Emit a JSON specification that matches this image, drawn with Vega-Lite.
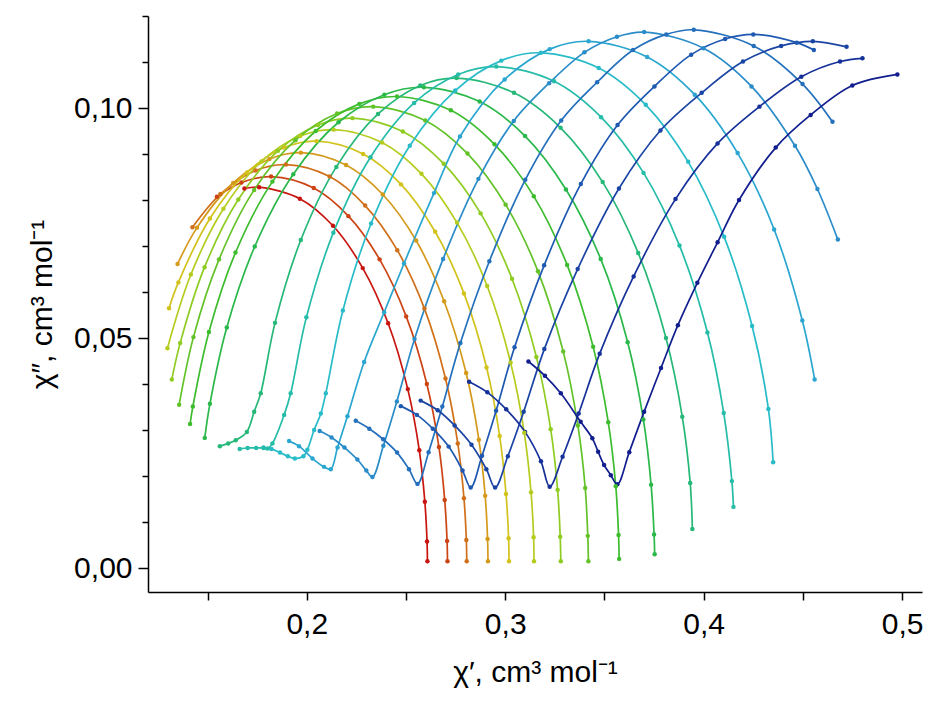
{
"$schema":"https://vega.github.io/schema/vega-lite/v6.json",
"width":774,"height":576,
"autosize":{"type":"none"},
"padding":{"left":148,"top":16,"right":7,"bottom":115},
"background":"white",
"config":{"view":{"stroke":null},"axis":{"grid":false,"domainColor":"black","domainWidth":1.5,"tickColor":"black","tickWidth":1.5,"labelColor":"black","titleColor":"black","labelFont":"Liberation Sans","titleFont":"Liberation Sans","titleFontWeight":"normal","labelOverlap":false,"labelFlush":false}},
"datasets":{"pts":[
{"c":1,"i":0,"x":0.1686,"y":0.0825},{"c":1,"i":1,"x":0.176,"y":0.0828},{"c":1,"i":2,"x":0.1965,"y":0.0803},{"c":1,"i":3,"x":0.2132,"y":0.0744},{"c":1,"i":4,"x":0.2282,"y":0.0652},{"c":1,"i":5,"x":0.241,"y":0.0532},{"c":1,"i":6,"x":0.2509,"y":0.0389},{"c":1,"i":7,"x":0.2567,"y":0.0256},{"c":1,"i":8,"x":0.2595,"y":0.0144},{"c":1,"i":9,"x":0.2606,"y":0.0058},{"c":1,"i":10,"x":0.2608,"y":0.0015},
{"c":2,"i":0,"x":0.1547,"y":0.0807},{"c":2,"i":1,"x":0.1671,"y":0.0838},{"c":2,"i":2,"x":0.182,"y":0.0851},{"c":2,"i":3,"x":0.2035,"y":0.0826},{"c":2,"i":4,"x":0.221,"y":0.0765},{"c":2,"i":5,"x":0.2367,"y":0.0671},{"c":2,"i":6,"x":0.2501,"y":0.0547},{"c":2,"i":7,"x":0.2605,"y":0.04},{"c":2,"i":8,"x":0.2666,"y":0.0263},{"c":2,"i":9,"x":0.2695,"y":0.0148},{"c":2,"i":10,"x":0.2707,"y":0.0059},{"c":2,"i":11,"x":0.2709,"y":0.0015},
{"c":3,"i":0,"x":0.1424,"y":0.0741},{"c":3,"i":1,"x":0.1565,"y":0.0813},{"c":3,"i":2,"x":0.1742,"y":0.0864},{"c":3,"i":3,"x":0.1895,"y":0.0877},{"c":3,"i":4,"x":0.2115,"y":0.0851},{"c":3,"i":5,"x":0.2294,"y":0.0788},{"c":3,"i":6,"x":0.2456,"y":0.0691},{"c":3,"i":7,"x":0.2593,"y":0.0564},{"c":3,"i":8,"x":0.2699,"y":0.0412},{"c":3,"i":9,"x":0.2761,"y":0.0271},{"c":3,"i":10,"x":0.2792,"y":0.0152},{"c":3,"i":11,"x":0.2804,"y":0.0061},{"c":3,"i":12,"x":0.2806,"y":0.0015},
{"c":4,"i":0,"x":0.1349,"y":0.0661},{"c":4,"i":1,"x":0.1447,"y":0.074},{"c":4,"i":2,"x":0.1629,"y":0.0837},{"c":4,"i":3,"x":0.1812,"y":0.0889},{"c":4,"i":4,"x":0.197,"y":0.0903},{"c":4,"i":5,"x":0.2198,"y":0.0876},{"c":4,"i":6,"x":0.2383,"y":0.0812},{"c":4,"i":7,"x":0.2551,"y":0.0712},{"c":4,"i":8,"x":0.2692,"y":0.058},{"c":4,"i":9,"x":0.2803,"y":0.0424},{"c":4,"i":10,"x":0.2867,"y":0.0279},{"c":4,"i":11,"x":0.2899,"y":0.0157},{"c":4,"i":12,"x":0.2911,"y":0.0063},{"c":4,"i":13,"x":0.2913,"y":0.0015},
{"c":5,"i":0,"x":0.1306,"y":0.0565},{"c":5,"i":1,"x":0.1353,"y":0.0621},{"c":5,"i":2,"x":0.1512,"y":0.076},{"c":5,"i":3,"x":0.1699,"y":0.086},{"c":5,"i":4,"x":0.1887,"y":0.0914},{"c":5,"i":5,"x":0.205,"y":0.0928},{"c":5,"i":6,"x":0.2284,"y":0.09},{"c":5,"i":7,"x":0.2475,"y":0.0834},{"c":5,"i":8,"x":0.2647,"y":0.0731},{"c":5,"i":9,"x":0.2792,"y":0.0597},{"c":5,"i":10,"x":0.2906,"y":0.0436},{"c":5,"i":11,"x":0.2972,"y":0.0287},{"c":5,"i":12,"x":0.3004,"y":0.0161},{"c":5,"i":13,"x":0.3017,"y":0.0065},{"c":5,"i":14,"x":0.3019,"y":0.0015},
{"c":6,"i":0,"x":0.1298,"y":0.0478},{"c":6,"i":1,"x":0.1416,"y":0.0638},{"c":6,"i":2,"x":0.158,"y":0.0781},{"c":6,"i":3,"x":0.1772,"y":0.0884},{"c":6,"i":4,"x":0.1967,"y":0.0939},{"c":6,"i":5,"x":0.2135,"y":0.0953},{"c":6,"i":6,"x":0.2379,"y":0.0925},{"c":6,"i":7,"x":0.2578,"y":0.0857},{"c":6,"i":8,"x":0.2757,"y":0.0751},{"c":6,"i":9,"x":0.2909,"y":0.0613},{"c":6,"i":10,"x":0.3027,"y":0.0447},{"c":6,"i":11,"x":0.3096,"y":0.0294},{"c":6,"i":12,"x":0.313,"y":0.0165},{"c":6,"i":13,"x":0.3143,"y":0.0067},{"c":6,"i":14,"x":0.3145,"y":0.0015},
{"c":7,"i":0,"x":0.132,"y":0.041},{"c":7,"i":1,"x":0.1362,"y":0.0489},{"c":7,"i":2,"x":0.1485,"y":0.0654},{"c":7,"i":3,"x":0.1655,"y":0.0801},{"c":7,"i":4,"x":0.1855,"y":0.0907},{"c":7,"i":5,"x":0.2056,"y":0.0963},{"c":7,"i":6,"x":0.223,"y":0.0978},{"c":7,"i":7,"x":0.2484,"y":0.0949},{"c":7,"i":8,"x":0.269,"y":0.0879},{"c":7,"i":9,"x":0.2876,"y":0.0771},{"c":7,"i":10,"x":0.3034,"y":0.0629},{"c":7,"i":11,"x":0.3157,"y":0.0459},{"c":7,"i":12,"x":0.3229,"y":0.0302},{"c":7,"i":13,"x":0.3264,"y":0.017},{"c":7,"i":14,"x":0.3277,"y":0.0068},{"c":7,"i":15,"x":0.328,"y":0.0015},
{"c":8,"i":0,"x":0.1357,"y":0.0355},{"c":8,"i":1,"x":0.1429,"y":0.0502},{"c":8,"i":2,"x":0.1558,"y":0.0671},{"c":8,"i":3,"x":0.1735,"y":0.0822},{"c":8,"i":4,"x":0.1943,"y":0.093},{"c":8,"i":5,"x":0.2153,"y":0.0988},{"c":8,"i":6,"x":0.2335,"y":0.1003},{"c":8,"i":7,"x":0.2597,"y":0.0973},{"c":8,"i":8,"x":0.281,"y":0.0901},{"c":8,"i":9,"x":0.3002,"y":0.079},{"c":8,"i":10,"x":0.3165,"y":0.0645},{"c":8,"i":11,"x":0.3292,"y":0.0471},{"c":8,"i":12,"x":0.3366,"y":0.031},{"c":8,"i":13,"x":0.3403,"y":0.0174},{"c":8,"i":14,"x":0.3416,"y":0.007},{"c":8,"i":15,"x":0.3419,"y":0.0015},
{"c":9,"i":0,"x":0.1412,"y":0.0313},{"c":9,"i":1,"x":0.1426,"y":0.0351},{"c":9,"i":2,"x":0.1507,"y":0.0513},{"c":9,"i":3,"x":0.1641,"y":0.0686},{"c":9,"i":4,"x":0.1827,"y":0.084},{"c":9,"i":5,"x":0.2045,"y":0.095},{"c":9,"i":6,"x":0.2265,"y":0.1009},{"c":9,"i":7,"x":0.2455,"y":0.1025},{"c":9,"i":8,"x":0.2726,"y":0.0995},{"c":9,"i":9,"x":0.2946,"y":0.0921},{"c":9,"i":10,"x":0.3144,"y":0.0808},{"c":9,"i":11,"x":0.3312,"y":0.0659},{"c":9,"i":12,"x":0.3443,"y":0.0481},{"c":9,"i":13,"x":0.3519,"y":0.0317},{"c":9,"i":14,"x":0.3557,"y":0.0178},{"c":9,"i":15,"x":0.3571,"y":0.0072},{"c":9,"i":16,"x":0.3574,"y":0.002},
{"c":10,"i":0,"x":0.1486,"y":0.0283},{"c":10,"i":1,"x":0.1512,"y":0.0357},{"c":10,"i":2,"x":0.1597,"y":0.0523},{"c":10,"i":3,"x":0.1738,"y":0.0699},{"c":10,"i":4,"x":0.1932,"y":0.0856},{"c":10,"i":5,"x":0.216,"y":0.0969},{"c":10,"i":6,"x":0.2391,"y":0.1029},{"c":10,"i":7,"x":0.259,"y":0.1045},{"c":10,"i":8,"x":0.2871,"y":0.1014},{"c":10,"i":9,"x":0.31,"y":0.0939},{"c":10,"i":10,"x":0.3306,"y":0.0823},{"c":10,"i":11,"x":0.3481,"y":0.0672},{"c":10,"i":12,"x":0.3617,"y":0.0491},{"c":10,"i":13,"x":0.3696,"y":0.0323},{"c":10,"i":14,"x":0.3735,"y":0.0181},{"c":10,"i":15,"x":0.375,"y":0.0073},{"c":10,"i":16,"x":0.3753,"y":0.003},
{"c":11,"i":0,"x":0.1562,"y":0.0265},{"c":11,"i":1,"x":0.1604,"y":0.0271},{"c":11,"i":2,"x":0.1642,"y":0.0278},{"c":11,"i":3,"x":0.1698,"y":0.0296},{"c":11,"i":4,"x":0.1735,"y":0.034},{"c":11,"i":5,"x":0.1768,"y":0.038},{"c":11,"i":6,"x":0.184,"y":0.0533},{"c":11,"i":7,"x":0.197,"y":0.0713},{"c":11,"i":8,"x":0.2149,"y":0.0872},{"c":11,"i":9,"x":0.2359,"y":0.0987},{"c":11,"i":10,"x":0.2572,"y":0.1049},{"c":11,"i":11,"x":0.2755,"y":0.1065},{"c":11,"i":12,"x":0.3044,"y":0.1033},{"c":11,"i":13,"x":0.3279,"y":0.0957},{"c":11,"i":14,"x":0.3491,"y":0.0839},{"c":11,"i":15,"x":0.367,"y":0.0685},{"c":11,"i":16,"x":0.381,"y":0.05},{"c":11,"i":17,"x":0.3892,"y":0.0329},{"c":11,"i":18,"x":0.3932,"y":0.0185},{"c":11,"i":19,"x":0.3943,"y":0.0085},
{"c":12,"i":0,"x":0.1662,"y":0.0259},{"c":12,"i":1,"x":0.1702,"y":0.0261},{"c":12,"i":2,"x":0.1745,"y":0.0261},{"c":12,"i":3,"x":0.1782,"y":0.0261},{"c":12,"i":4,"x":0.1802,"y":0.026},{"c":12,"i":5,"x":0.1827,"y":0.0271},{"c":12,"i":6,"x":0.1886,"y":0.0333},{"c":12,"i":7,"x":0.1919,"y":0.038},{"c":12,"i":8,"x":0.1998,"y":0.0545},{"c":12,"i":9,"x":0.2134,"y":0.0729},{"c":12,"i":10,"x":0.2321,"y":0.0893},{"c":12,"i":11,"x":0.2541,"y":0.1011},{"c":12,"i":12,"x":0.2763,"y":0.1073},{"c":12,"i":13,"x":0.2955,"y":0.109},{"c":12,"i":14,"x":0.3246,"y":0.1058},{"c":12,"i":15,"x":0.3483,"y":0.098},{"c":12,"i":16,"x":0.3697,"y":0.0859},{"c":12,"i":17,"x":0.3878,"y":0.0701},{"c":12,"i":18,"x":0.4019,"y":0.0512},{"c":12,"i":19,"x":0.4101,"y":0.0337},{"c":12,"i":20,"x":0.4142,"y":0.0189},{"c":12,"i":21,"x":0.415,"y":0.0133},
{"c":13,"i":0,"x":0.1782,"y":0.0262},{"c":13,"i":1,"x":0.1822,"y":0.0259},{"c":13,"i":2,"x":0.1865,"y":0.0251},{"c":13,"i":3,"x":0.1905,"y":0.0243},{"c":13,"i":4,"x":0.194,"y":0.0238},{"c":13,"i":5,"x":0.1983,"y":0.0243},{"c":13,"i":6,"x":0.2003,"y":0.0257},{"c":13,"i":7,"x":0.2037,"y":0.03},{"c":13,"i":8,"x":0.2071,"y":0.0336},{"c":13,"i":9,"x":0.2096,"y":0.038},{"c":13,"i":10,"x":0.2182,"y":0.056},{"c":13,"i":11,"x":0.2324,"y":0.0749},{"c":13,"i":12,"x":0.2519,"y":0.0918},{"c":13,"i":13,"x":0.2748,"y":0.1038},{"c":13,"i":14,"x":0.298,"y":0.1103},{"c":13,"i":15,"x":0.318,"y":0.112},{"c":13,"i":16,"x":0.3471,"y":0.1087},{"c":13,"i":17,"x":0.3708,"y":0.1007},{"c":13,"i":18,"x":0.3922,"y":0.0883},{"c":13,"i":19,"x":0.4103,"y":0.072},{"c":13,"i":20,"x":0.4244,"y":0.0526},{"c":13,"i":21,"x":0.4326,"y":0.0346},{"c":13,"i":22,"x":0.435,"y":0.023},
{"c":14,"i":0,"x":0.1911,"y":0.0276},{"c":14,"i":1,"x":0.1961,"y":0.0265},{"c":14,"i":2,"x":0.2029,"y":0.0238},{"c":14,"i":3,"x":0.2087,"y":0.022},{"c":14,"i":4,"x":0.2121,"y":0.0215},{"c":14,"i":5,"x":0.2155,"y":0.0262},{"c":14,"i":6,"x":0.2205,"y":0.033},{"c":14,"i":7,"x":0.2289,"y":0.0448},{"c":14,"i":8,"x":0.239,"y":0.0556},{"c":14,"i":9,"x":0.249,"y":0.0662},{"c":14,"i":10,"x":0.2641,"y":0.0815},{"c":14,"i":11,"x":0.2772,"y":0.0938},{"c":14,"i":12,"x":0.2997,"y":0.1062},{"c":14,"i":13,"x":0.3224,"y":0.1128},{"c":14,"i":14,"x":0.342,"y":0.1145},{"c":14,"i":15,"x":0.3715,"y":0.1111},{"c":14,"i":16,"x":0.3955,"y":0.1029},{"c":14,"i":17,"x":0.4171,"y":0.0902},{"c":14,"i":18,"x":0.4355,"y":0.0736},{"c":14,"i":19,"x":0.4497,"y":0.0538},{"c":14,"i":20,"x":0.4559,"y":0.041},
{"c":15,"i":0,"x":0.2065,"y":0.0298},{"c":15,"i":1,"x":0.2125,"y":0.0284},{"c":15,"i":2,"x":0.219,"y":0.0262},{"c":15,"i":3,"x":0.2255,"y":0.0236},{"c":15,"i":4,"x":0.23,"y":0.0212},{"c":15,"i":5,"x":0.2331,"y":0.0198},{"c":15,"i":6,"x":0.2386,"y":0.0266},{"c":15,"i":7,"x":0.2454,"y":0.0362},{"c":15,"i":8,"x":0.2543,"y":0.0498},{"c":15,"i":9,"x":0.2687,"y":0.0672},{"c":15,"i":10,"x":0.2865,"y":0.0846},{"c":15,"i":11,"x":0.3043,"y":0.0972},{"c":15,"i":12,"x":0.3221,"y":0.1054},{"c":15,"i":13,"x":0.3399,"y":0.1121},{"c":15,"i":14,"x":0.3563,"y":0.1155},{"c":15,"i":15,"x":0.37,"y":0.1165},{"c":15,"i":16,"x":0.3999,"y":0.113},{"c":15,"i":17,"x":0.4241,"y":0.1047},{"c":15,"i":18,"x":0.446,"y":0.0918},{"c":15,"i":19,"x":0.4573,"y":0.0824},{"c":15,"i":20,"x":0.4676,"y":0.0714},
{"c":16,"i":0,"x":0.2247,"y":0.032},{"c":16,"i":1,"x":0.2315,"y":0.0303},{"c":16,"i":2,"x":0.2385,"y":0.028},{"c":16,"i":3,"x":0.2455,"y":0.0251},{"c":16,"i":4,"x":0.2515,"y":0.0215},{"c":16,"i":5,"x":0.2558,"y":0.0183},{"c":16,"i":6,"x":0.2614,"y":0.0252},{"c":16,"i":7,"x":0.2683,"y":0.0351},{"c":16,"i":8,"x":0.2774,"y":0.0489},{"c":16,"i":9,"x":0.292,"y":0.0667},{"c":16,"i":10,"x":0.3101,"y":0.0844},{"c":16,"i":11,"x":0.3282,"y":0.0973},{"c":16,"i":12,"x":0.3463,"y":0.1056},{"c":16,"i":13,"x":0.3644,"y":0.1126},{"c":16,"i":14,"x":0.3811,"y":0.116},{"c":16,"i":15,"x":0.395,"y":0.117},{"c":16,"i":16,"x":0.4252,"y":0.1135},{"c":16,"i":17,"x":0.4498,"y":0.1052},{"c":16,"i":18,"x":0.4649,"y":0.097},
{"c":17,"i":0,"x":0.2474,"y":0.0352},{"c":17,"i":1,"x":0.2555,"y":0.0333},{"c":17,"i":2,"x":0.2635,"y":0.0303},{"c":17,"i":3,"x":0.2715,"y":0.0264},{"c":17,"i":4,"x":0.2785,"y":0.0212},{"c":17,"i":5,"x":0.2826,"y":0.0175},{"c":17,"i":6,"x":0.2883,"y":0.0244},{"c":17,"i":7,"x":0.2954,"y":0.0342},{"c":17,"i":8,"x":0.3047,"y":0.048},{"c":17,"i":9,"x":0.3196,"y":0.0658},{"c":17,"i":10,"x":0.3381,"y":0.0835},{"c":17,"i":11,"x":0.3566,"y":0.0963},{"c":17,"i":12,"x":0.3752,"y":0.1047},{"c":17,"i":13,"x":0.3937,"y":0.1116},{"c":17,"i":14,"x":0.4108,"y":0.115},{"c":17,"i":15,"x":0.425,"y":0.116},{"c":17,"i":16,"x":0.4469,"y":0.1142},{"c":17,"i":17,"x":0.4555,"y":0.1126},
{"c":18,"i":0,"x":0.2574,"y":0.0364},{"c":18,"i":1,"x":0.266,"y":0.0343},{"c":18,"i":2,"x":0.2745,"y":0.031},{"c":18,"i":3,"x":0.283,"y":0.0268},{"c":18,"i":4,"x":0.2905,"y":0.0215},{"c":18,"i":5,"x":0.2949,"y":0.0175},{"c":18,"i":6,"x":0.3013,"y":0.0243},{"c":18,"i":7,"x":0.3093,"y":0.034},{"c":18,"i":8,"x":0.3197,"y":0.0476},{"c":18,"i":9,"x":0.3365,"y":0.065},{"c":18,"i":10,"x":0.3573,"y":0.0825},{"c":18,"i":11,"x":0.3782,"y":0.0951},{"c":18,"i":12,"x":0.399,"y":0.1033},{"c":18,"i":13,"x":0.4198,"y":0.1101},{"c":18,"i":14,"x":0.439,"y":0.1135},{"c":18,"i":15,"x":0.455,"y":0.1145},{"c":18,"i":16,"x":0.472,"y":0.1133},
{"c":19,"i":0,"x":0.2818,"y":0.0405},{"c":19,"i":1,"x":0.291,"y":0.0382},{"c":19,"i":2,"x":0.3005,"y":0.0345},{"c":19,"i":3,"x":0.31,"y":0.0296},{"c":19,"i":4,"x":0.318,"y":0.0232},{"c":19,"i":5,"x":0.3224,"y":0.0177},{"c":19,"i":6,"x":0.3289,"y":0.0242},{"c":19,"i":7,"x":0.337,"y":0.0336},{"c":19,"i":8,"x":0.3476,"y":0.0466},{"c":19,"i":9,"x":0.3647,"y":0.0634},{"c":19,"i":10,"x":0.3858,"y":0.0802},{"c":19,"i":11,"x":0.407,"y":0.0923},{"c":19,"i":12,"x":0.4281,"y":0.1003},{"c":19,"i":13,"x":0.4492,"y":0.1068},{"c":19,"i":14,"x":0.4687,"y":0.1101},{"c":19,"i":15,"x":0.48,"y":0.1108},
{"c":20,"i":0,"x":0.3117,"y":0.0449},{"c":20,"i":1,"x":0.32,"y":0.0418},{"c":20,"i":2,"x":0.328,"y":0.038},{"c":20,"i":3,"x":0.338,"y":0.0318},{"c":20,"i":4,"x":0.3439,"y":0.0282},{"c":20,"i":5,"x":0.3468,"y":0.0253},{"c":20,"i":6,"x":0.3498,"y":0.0224},{"c":20,"i":7,"x":0.3532,"y":0.0202},{"c":20,"i":8,"x":0.3565,"y":0.0182},{"c":20,"i":9,"x":0.3625,"y":0.0252},{"c":20,"i":10,"x":0.37,"y":0.034},{"c":20,"i":11,"x":0.3785,"y":0.0435},{"c":20,"i":12,"x":0.387,"y":0.0528},{"c":20,"i":13,"x":0.3968,"y":0.062},{"c":20,"i":14,"x":0.407,"y":0.0708},{"c":20,"i":15,"x":0.4178,"y":0.08},{"c":20,"i":16,"x":0.4363,"y":0.0914},{"c":20,"i":17,"x":0.4539,"y":0.0985},{"c":20,"i":18,"x":0.4749,"y":0.1049},{"c":20,"i":19,"x":0.4976,"y":0.1073}
]},
"data":{"name":"pts"},
"encoding":{
"x":{"field":"x","type":"quantitative","scale":{"domain":[0.12,0.51],"nice":false,"zero":false},
"axis":{"values":[0.15,0.2,0.25,0.3,0.35,0.4,0.45,0.5],"labelExpr":"datum.value==0.2?'0,2':datum.value==0.3?'0,3':datum.value==0.4?'0,4':datum.value==0.5?'0,5':''","tickSize":8,"labelFontSize":30,"labelPadding":9,"title":"χ′, cm³ mol⁻¹","titleFontSize":30,"titlePadding":18}},
"y":{"field":"y","type":"quantitative","scale":{"domain":[-0.0052,0.12],"nice":false,"zero":false},
"axis":{"values":[0,0.01,0.02,0.03,0.04,0.05,0.06,0.07,0.08,0.09,0.1,0.11,0.12],"labelExpr":"datum.value==0?'0,00':datum.value==0.05?'0,05':datum.value==0.1?'0,10':''","tickSize":{"condition":{"test":"datum.value==0||datum.value==0.05||datum.value==0.1","value":10},"value":6},"labelFontSize":30,"labelPadding":6,"title":"χ″, cm³ mol⁻¹","titleFontSize":30,"titlePadding":16}},
"color":{"field":"c","type":"nominal","legend":null,"scale":{"domain":[1,2,3,4,5,6,7,8,9,10,11,12,13,14,15,16,17,18,19,20],"range":["#c8150f","#cc4414","#d0701a","#d49a1c","#d2c21c","#b5cc1e","#8fcc22","#62c228","#3dbc2e","#2bb84a","#26b878","#25bca8","#28bcc8","#2aa6d0","#2a8cc8","#2470bc","#1e58b0","#1a44a4","#16309a","#121e8e"]}},
"order":{"field":"i","type":"quantitative"}
},
"layer":[
{"mark":{"type":"line","interpolate":"catmull-rom","strokeWidth":1.7}},
{"mark":{"type":"circle","size":20,"opacity":1}}
]
}
